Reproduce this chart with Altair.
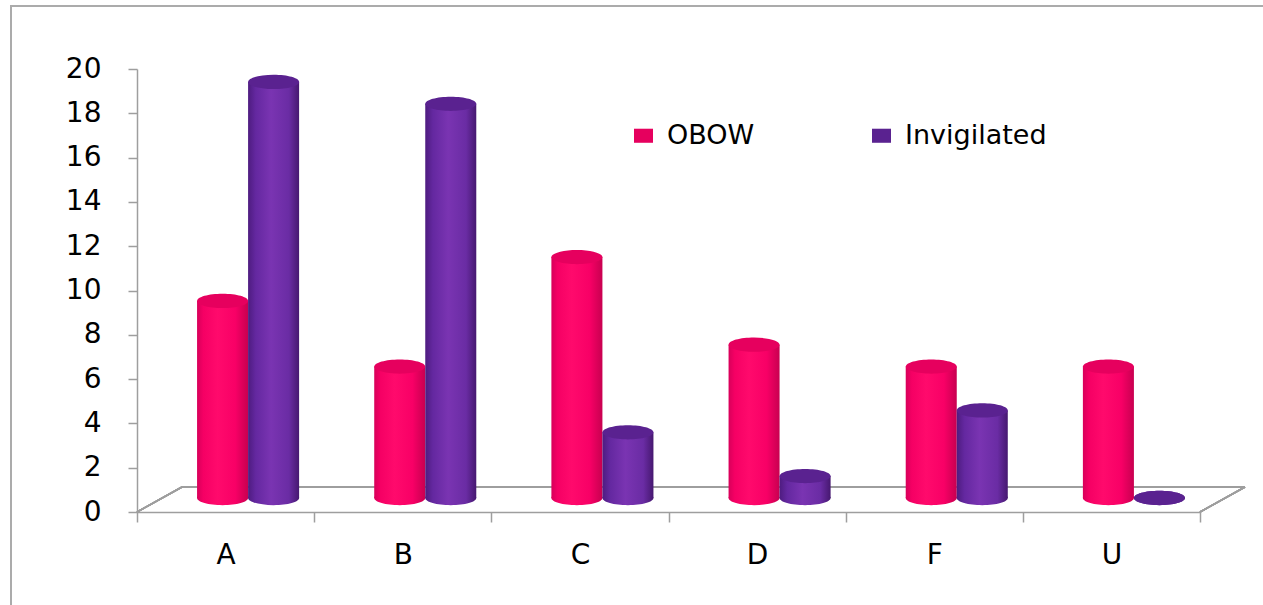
import altair as alt
import pandas as pd

# Grade distribution for two assessment formats
grades = ["A", "B", "C", "D", "F", "U"]
series = ["OBOW", "Invigilated"]
obow = [9, 6, 11, 7, 6, 6]
invigilated = [19, 18, 3, 1, 4, 0]

y_ticks = list(range(0, 21, 2))

FONT = "DejaVu Sans"
AXIS_GREY = "#9E9E9E"

rows = []
for g, o, i in zip(grades, obow, invigilated):
    rows.append({"grade": g, "series": "OBOW", "count": o})
    rows.append({"grade": g, "series": "Invigilated", "count": i})
df = pd.DataFrame(rows)
cats = pd.DataFrame({"grade": grades, "zero": [0] * len(grades)})

W, H = 1063, 443
DEPTH_X, DEPTH_Y = 45, 25  # floor depth of the 3-D box

# ---------- front axes (value scale 0-20, grade bands without padding)
axes = alt.Chart(cats).mark_point(opacity=0).encode(
    x=alt.X(
        "grade:N",
        sort=grades,
        title=None,
        scale=alt.Scale(paddingInner=0, paddingOuter=0),
        axis=alt.Axis(
            tickBand="extent", labelAngle=0, labelFont=FONT, labelFontSize=28,
            labelColor="#000000", labelPadding=19, tickSize=10,
            tickColor=AXIS_GREY, domainColor=AXIS_GREY, tickWidth=1.5,
            domainWidth=1.5, orient="bottom",
        ),
    ),
    y=alt.Y(
        "zero:Q",
        title=None,
        scale=alt.Scale(domain=[0, 20], nice=False),
        axis=alt.Axis(
            values=y_ticks, grid=False, labelFont=FONT, labelFontSize=28,
            labelColor="#000000", labelPadding=27, tickSize=9,
            tickColor=AXIS_GREY, domainColor=AXIS_GREY, tickWidth=1.5,
            domainWidth=1.5, orient="left",
        ),
    ),
)

# ---------- floor of the 3-D box
floor_back = alt.Chart(cats).mark_rule(color=AXIS_GREY, strokeWidth=1.5).encode(
    x=alt.value(DEPTH_X), x2=alt.value(W + DEPTH_X), y=alt.value(H - DEPTH_Y)
)
floor_left = alt.Chart(cats).mark_rule(color=AXIS_GREY, strokeWidth=1.5).encode(
    x=alt.value(0), x2=alt.value(DEPTH_X), y=alt.value(H), y2=alt.value(H - DEPTH_Y)
)
floor_right = alt.Chart(cats).mark_rule(color=AXIS_GREY, strokeWidth=1.5).encode(
    x=alt.value(W), x2=alt.value(W + DEPTH_X), y=alt.value(H), y2=alt.value(H - DEPTH_Y)
)

# outer frame of the chart
frame = alt.Chart(cats).mark_rect(fill=None, stroke="#ABABAB", strokeWidth=2).encode(
    x=alt.value(-126), x2=alt.value(W + 80), y=alt.value(-63), y2=alt.value(H + 110)
)

front = alt.layer(frame, floor_back, floor_left, floor_right, axes)

# ---------- cylinders, drawn on the mid-depth plane of the box
def grad(stops):
    return alt.Gradient(
        gradient="linear", x1=0, x2=1, y1=0, y2=0,
        stops=[alt.GradientStop(offset=o, color=c) for o, c in stops],
    )

body_fill = {
    "OBOW": grad([(0, "#D8005A"), (0.12, "#F50064"), (0.4, "#FF0A6C"),
                  (0.75, "#F80066"), (1, "#C80050")]),
    "Invigilated": grad([(0, "#4E1C80"), (0.15, "#6428A0"), (0.45, "#7A34B2"),
                         (0.8, "#6A2CA4"), (1, "#461870")]),
}
cap_colors = ["#E6005E", "#5A2290"]

bar_x = alt.X(
    "grade:N", sort=grades, title=None,
    scale=alt.Scale(range=[DEPTH_X / 2, W + DEPTH_X / 2], paddingInner=0.424, paddingOuter=0.212),
    axis=None,
)
bar_off = alt.XOffset(
    "series:N", sort=series,
    scale=alt.Scale(domain=series, paddingInner=0, paddingOuter=0),
)
value_scale = alt.Scale(domain=[0, 20], range=[H - 14, H - 14 - 20 * 21.9], nice=False)
bar_y = alt.Y("count:Q", title=None, scale=value_scale, axis=None)

ELLIPSE = "M-1,0A1,0.28,0,1,0,1,0A1,0.28,0,1,0,-1,0Z"
LEGEND_RECT = "M-1,-0.74L1,-0.74L1,0.74L-1,0.74Z"
CYL_W = (W / 6) * (1 - 0.424) / 2
CAP_SIZE = CYL_W ** 2

layers = []
for s in series:
    sub = alt.Chart(df).transform_filter(alt.datum.series == s)
    bottom = sub.transform_calculate(base="0").mark_point(
        shape=ELLIPSE, size=CAP_SIZE, filled=True, opacity=1, fill=body_fill[s], strokeWidth=0
    ).encode(x=bar_x, xOffset=bar_off, y=alt.Y("base:Q", scale=value_scale, axis=None, title=None))
    body = sub.mark_bar(fill=body_fill[s], strokeWidth=0).encode(
        x=bar_x, xOffset=bar_off, y=bar_y, y2=alt.datum(0)
    )
    layers += [bottom, body]

caps = alt.Chart(df).mark_point(
    shape=ELLIPSE, size=CAP_SIZE, filled=True, opacity=1, strokeWidth=0
).encode(
    x=bar_x, xOffset=bar_off, y=bar_y,
    color=alt.Color(
        "series:N", sort=series, title=None,
        scale=alt.Scale(domain=series, range=cap_colors),
        legend=alt.Legend(
            orient="none", legendX=493, legendY=53, direction="horizontal",
            symbolType=LEGEND_RECT, symbolSize=361, symbolOpacity=1, symbolStrokeWidth=0,
            labelFont=FONT, labelFontSize=27, labelColor="#000000", labelOffset=10,
            columnPadding=113, padding=0, labelLimit=400,
        ),
    ),
)
layers.append(caps)

cylinders = alt.layer(*layers)

chart = (
    alt.layer(front, cylinders)
    .resolve_scale(x="independent", y="independent", xOffset="independent")
    .properties(
        width=W, height=H,
        autosize=alt.AutoSizeParams(type="none"),
        padding={"left": 137, "top": 69, "right": 63, "bottom": 93},
        background="#FFFFFF",
    )
    .configure_view(strokeWidth=0)
)

chart.save("out.html", embed_options={"renderer": "svg", "actions": False})
